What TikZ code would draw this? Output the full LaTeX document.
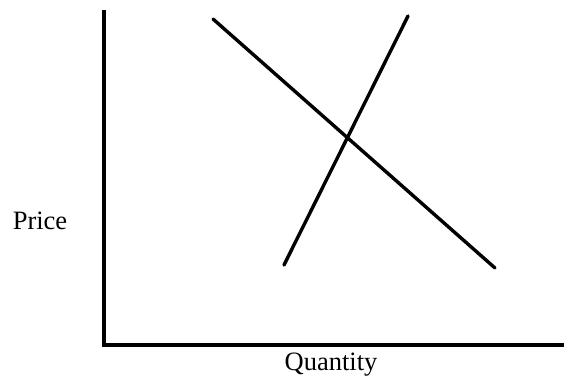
\documentclass[tikz,border=0pt]{standalone}
\usepackage{fontspec}
\setmainfont{Liberation Serif}
\usetikzlibrary{positioning}

\begin{document}
\begin{tikzpicture}[
  x=1pt, y=-1pt,
  axis/.style={draw=black, line width=3.2pt},
  curve/.style={draw=black, line width=3.4pt, line cap=round},
  lbl/.style={font=\fontsize{26.5}{30}\selectfont, inner sep=0pt},
]
\useasboundingbox (0,0) rectangle (564,377);

% ---- axes -------------------------------------------------------------------
\coordinate (top) at (104,10);
\coordinate (origin) at (104,345);
\coordinate (right) at (564,345);
\draw[axis] (top) -- (origin) -- (right);

% ---- demand and supply ------------------------------------------------------
\coordinate (d1) at (213,19);
\coordinate (d2) at (495,268);
\coordinate (s1) at (284,265);
\coordinate (s2) at (408,16);
\draw[curve] (d1) -- (d2);
\draw[curve] (s1) -- (s2);

% ---- labels -----------------------------------------------------------------
\node[lbl, anchor=base] (price) at (40,229) {Price};
\node[lbl, anchor=base] (qty) at (331,370) {Quantity};

\end{tikzpicture}
\end{document}
